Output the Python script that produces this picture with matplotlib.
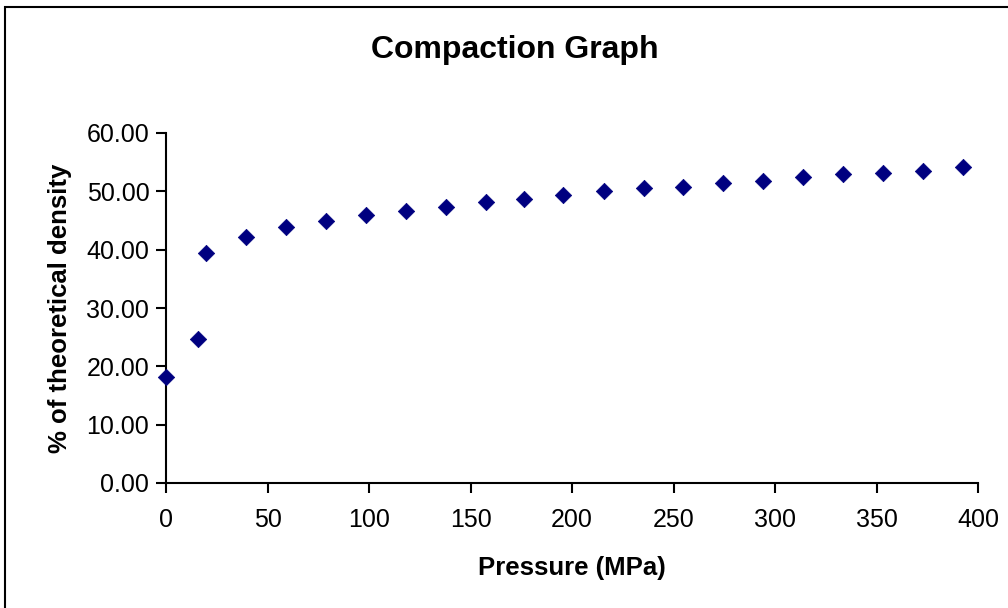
import matplotlib.pyplot as plt
from matplotlib.patches import Rectangle

pressure = [0, 15.7, 19.8, 39.3, 59.0, 78.7, 98.4, 118.0, 137.7, 157.6, 176.3,
            195.8, 215.6, 235.3, 254.8, 274.6, 294.3, 314.0, 333.5, 353.3, 373.0, 392.7]
density = [18.2, 24.7, 39.5, 42.2, 43.9, 45.0, 46.0, 46.7, 47.4, 48.1, 48.7,
           49.4, 50.1, 50.5, 50.8, 51.5, 51.8, 52.5, 52.9, 53.2, 53.5, 54.2]

plt.rcParams['font.family'] = ['Liberation Sans', 'DejaVu Sans']

W, H = 1008, 608
fig = plt.figure(figsize=(W / 100, H / 100), dpi=100)

# outer chart frame (cut off on right/bottom like the original)
fig.patches.append(Rectangle((5 / W, -0.05), 1.2, 1 - 7 / H + 0.05, transform=fig.transFigure,
                             fill=False, edgecolor='black', linewidth=1.5))

ax = fig.add_axes([166 / W, 1 - 483 / H, (978 - 166) / W, (483 - 133) / H])
ax.scatter(pressure, density, marker='D', s=70, color='#000080', edgecolors='#000080',
           linewidths=0.5, zorder=3, clip_on=False)

ax.set_xlim(0, 400)
ax.set_ylim(0, 60)
ax.set_xticks(range(0, 401, 50))
ax.set_yticks(range(0, 61, 10))
ax.set_yticklabels([f'{v:.2f}' for v in range(0, 61, 10)])

for s in ['top', 'right']:
    ax.spines[s].set_visible(False)
for s in ['left', 'bottom']:
    ax.spines[s].set_linewidth(1.5)
ax.tick_params(axis='both', direction='out', length=7, width=1.5, labelsize=18)
ax.tick_params(axis='x', pad=11)
ax.tick_params(axis='y', pad=5)

fig.text(515 / W, 1 - 50 / H, 'Compaction Graph', ha='center', va='center',
         fontsize=23, fontweight='bold')
fig.text(572 / W, 1 - 568 / H, 'Pressure (MPa)', ha='center', va='center',
         fontsize=18.5, fontweight='bold')
fig.text(60 / W, 1 - 308 / H, '% of theoretical density', ha='center', va='center',
         fontsize=18.5, fontweight='bold', rotation=90)

plt.savefig('out.png', dpi=100)
